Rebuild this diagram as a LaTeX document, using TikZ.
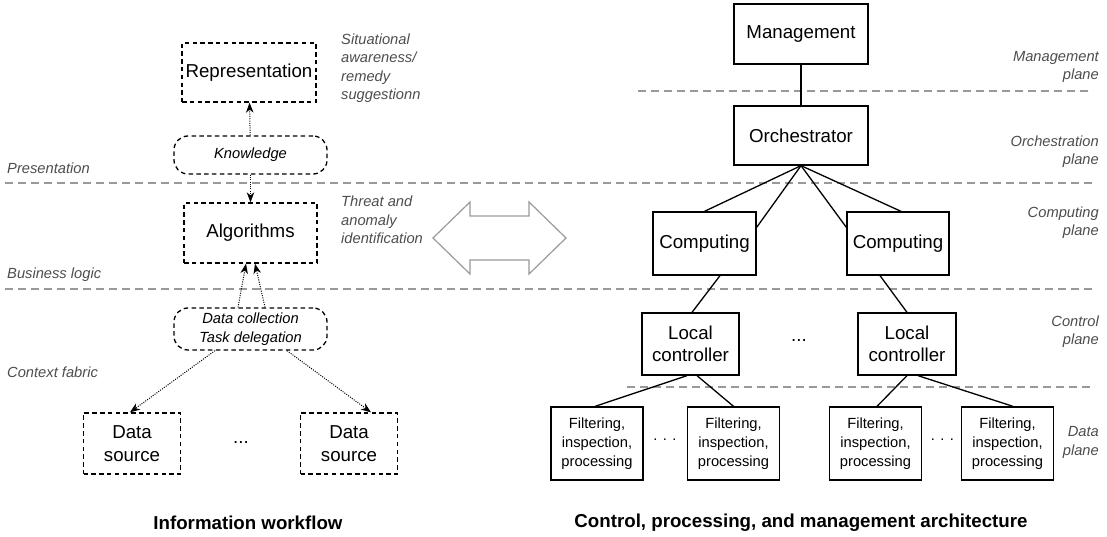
\documentclass[tikz,border=0pt]{standalone}
\usepackage{fontspec}
\setmainfont{Liberation Sans}
\usetikzlibrary{arrows.meta}
\definecolor{notegray}{RGB}{77,77,77}
\definecolor{linegray}{RGB}{153,153,153}
\tikzset{box text/.style={font=\fontsize{18.7}{22.5}\selectfont, align=center,
           inner sep=0pt, line width=1.3pt},
     dashed box/.style={box text, draw=black, dash pattern=on 4.5pt off 3.3pt},
     solid box/.style={box text, draw=black},
     filter box/.style={solid box, font=\fontsize{14.7}{19}\selectfont,
           minimum width=92pt, minimum height=73pt},
     flow pill/.style={draw=black, line width=1.3pt, dash pattern=on 4.5pt off 3.3pt,
           rounded corners=14pt, align=center, inner sep=0pt,
           font=\fontsize{14.7}{19}\selectfont\itshape, minimum width=153pt},
     side note/.style={inner sep=0pt, text=notegray, align=left,
           font=\fontsize{14.7}{18.5}\selectfont\itshape},
     plane line/.style={draw=linegray, line width=1.3pt, dash pattern=on 8pt off 5pt},
     flow arrow/.style={line width=1pt, dash pattern=on 1pt off 1.3pt,
           -{Stealth[length=10pt,width=7.5pt,inset=3pt]}},
     tree line/.style={line width=1.3pt},
     title/.style={inner sep=0pt, font=\fontsize{18.7}{22.5}\selectfont\bfseries}
     }
\def\PlaneNote#1#2#3{%
 \node (#1) [side note, anchor=east, align=right] at (1099,#2) {#3};
}
\def\LayerNote#1#2#3{%
 \node (#1) [side note, anchor=west] at (7,#2) {#3};
}
\begin{document}
\begin{tikzpicture}[x=1pt, y=-1pt]
\useasboundingbox (0,0) rectangle (1107,537);
% planes
\draw[plane line] (638,91) -- (1093,91);
\draw[plane line] (5,183) -- (1093,183);
\draw[plane line] (5,289) -- (1093,289);
\draw[plane line] (627,387) -- (1093,387);
% information workflow
\node (Repr) [dashed box, minimum width=134pt, minimum height=59pt] at (249,72.5) {Representation};
\node (Know) [flow pill, minimum height=38pt] at (250.5,155) {Knowledge};
\node (Algo) [dashed box, minimum width=133pt, minimum height=60pt] at (250.5,233) {Algorithms};
\node (Coll) [flow pill, minimum height=42pt] at (250.5,329) {Data collection\\Task delegation};
\node (SourceA) [dashed box, minimum width=97pt, minimum height=61pt] at (132,443.5) {Data\\source};
\node (SourceB) [dashed box, minimum width=97pt, minimum height=61pt] at (349,443.5) {Data\\source};
\node (SourceDots) [box text] at (241,442) {...};
\draw[flow arrow] (Know) -- (Repr);
\draw[flow arrow] (Know) -- (Algo);
\draw[flow arrow] ([xshift=-12.5pt]Coll.north) -- ([xshift=-4.5pt]Algo.south);
\draw[flow arrow] ([xshift=14.5pt]Coll.north) -- ([xshift=4.5pt]Algo.south);
\draw[flow arrow] ([xshift=-35.5pt]Coll.south) -- ([xshift=-2pt]SourceA.north);
\draw[flow arrow] ([xshift=36.5pt]Coll.south) -- ([xshift=22pt]SourceB.north);
\LayerNote{NotePres}{168}{Presentation}
\LayerNote{NoteLogic}{275}{Business logic}
\LayerNote{NoteFabric}{372}{Context fabric}
\node (NoteAware) [side note, anchor=west] at (341,68) {Situational\\awareness/\\remedy\\suggestionn};
\node (NoteThreat) [side note, anchor=west] at (341,220) {Threat and\\anomaly\\identification};
\node (InfoTitle) [title] at (248,523) {Information workflow};
% link between both halves
\draw[draw=linegray, line width=1.2pt] (433,238) -- (470,202) -- (470,216) -- (529,216)
  -- (529,202) -- (566,238) -- (529,274) -- (529,260) -- (470,260) -- (470,274) -- cycle;
% architecture
\node (Mgmt) [solid box, minimum width=134pt, minimum height=60pt] at (801,34) {Management};
\node (Orch) [solid box, minimum width=134pt, minimum height=59pt] at (801,135.5) {Orchestrator};
\node (CompA) [solid box, minimum width=103pt, minimum height=63pt] at (704.5,243.5) {Computing};
\node (CompB) [solid box, minimum width=102pt, minimum height=63pt] at (898,243.5) {Computing};
\node (CtrlA) [solid box, minimum width=97pt, minimum height=62pt] at (690.5,344) {Local\\controller};
\node (CtrlB) [solid box, minimum width=98pt, minimum height=62pt] at (907,344) {Local\\controller};
\node (CtrlDots) [box text] at (799,340) {...};
\node (FiltA) [filter box] at (597,443.5) {Filtering,\\inspection,\\processing};
\node (FiltB) [filter box] at (733.5,443.5) {Filtering,\\inspection,\\processing};
\node (FiltC) [filter box] at (875.5,443.5) {Filtering,\\inspection,\\processing};
\node (FiltD) [filter box] at (1007.5,443.5) {Filtering,\\inspection,\\processing};
\node (FiltDotsA) [box text, font=\fontsize{14.7}{19}\selectfont] at (665,440) {. . .};
\node (FiltDotsB) [box text, font=\fontsize{14.7}{19}\selectfont] at (942.5,440) {. . .};
\draw[tree line] (Mgmt) -- (Orch);
\draw[tree line] (Orch.south) -- (CompA.north);
\draw[tree line] (Orch.south) -- ([yshift=-16pt]CompA.north east);
\draw[tree line] (Orch.south) -- ([yshift=-16pt]CompB.north west);
\draw[tree line] (Orch.south) -- ([xshift=3pt]CompB.north);
\draw[tree line] ([xshift=15.5pt]CompA.south) -- ([xshift=1.5pt]CtrlA.north);
\draw[tree line] ([xshift=-18pt]CompB.south) -- (CtrlB.north);
\draw[tree line] ([xshift=-3.5pt]CtrlA.south) -- ([xshift=-2pt]FiltA.north);
\draw[tree line] ([xshift=6.5pt]CtrlA.south) -- (FiltB.north);
\draw[tree line] (CtrlB.south) -- ([xshift=1.5pt]FiltC.north);
\draw[tree line] ([xshift=11pt]CtrlB.south) -- ([xshift=5.5pt]FiltD.north);
\PlaneNote{PlaneMgmt}{67}{Management\\plane}
\PlaneNote{PlaneOrch}{151.5}{Orchestration\\plane}
\PlaneNote{PlaneComp}{222.5}{Computing\\plane}
\PlaneNote{PlaneCtrl}{331.5}{Control\\plane}
\PlaneNote{PlaneData}{442.5}{Data\\plane}
\node (ArchTitle) [title] at (801,523) {Control, processing, and management architecture};
\end{tikzpicture}
\end{document}
